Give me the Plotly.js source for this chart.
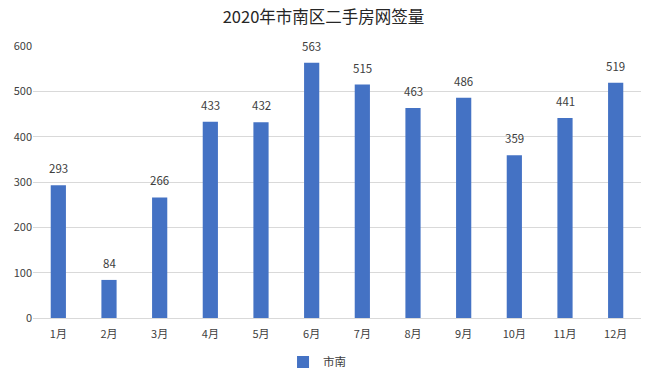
<!DOCTYPE html>
<html>
<head>
<meta charset="utf-8">
<script src="https://cdn.plot.ly/plotly-3.0.1.min.js"></script>
<style>html,body{margin:0;padding:0;background:#fff;}#chart{width:647px;height:377px;}</style>
</head>
<body>
<div id="chart"></div>
<script>
const months = ["1月","2月","3月","4月","5月","6月","7月","8月","9月","10月","11月","12月"];
const values = [293, 84, 266, 433, 432, 563, 515, 463, 486, 359, 441, 519];
const seriesName = "市南";
const yTicks = [0, 100, 200, 300, 400, 500, 600];

const font = "'Noto Sans CJK SC', 'Noto Sans', sans-serif";

const labels = months.map((m, i) => ({
  x: m, y: values[i], xref: "x", yref: "y",
  text: String(values[i]), showarrow: false,
  yanchor: "bottom", yshift: 7,
  font: {family: font, size: 11.5, color: "#404040"}
}));

Plotly.newPlot("chart", [{
  type: "bar",
  x: months,
  y: values,
  name: seriesName,
  marker: {color: "#4472C4"},
  hoverinfo: "x+y"
}], {
  width: 647, height: 377,
  margin: {l: 33, r: 6, t: 46, b: 59, autoexpand: false},
  paper_bgcolor: "#fff", plot_bgcolor: "#fff",
  title: {text: "2020年市南区二手房网签量", font: {family: font, size: 16.5, color: "#262626"}, x: 0.5, xanchor: "center", y: 0.955, yanchor: "middle"},
  bargap: 0.7,
  showlegend: true,
  legend: {orientation: "h", x: 0.49, xanchor: "center", xref: "container", y: 0.04, yref: "container", yanchor: "middle", itemwidth: 30, font: {family: font, size: 11.5, color: "#404040"}},
  annotations: labels,
  xaxis: {type: "category", showgrid: false, showline: true, linecolor: "#D9D9D9", linewidth: 1, ticks: "", ticklabelstandoff: 6, tickfont: {family: font, size: 11, color: "#404040"}, fixedrange: true, automargin: false},
  yaxis: {range: [0, 600], tickvals: yTicks, showgrid: true, gridcolor: "#D9D9D9", gridwidth: 1, zeroline: false, showline: false, ticks: "", ticklen: 0, tickfont: {family: font, size: 11, color: "#404040"}, fixedrange: true, automargin: false}
}, {displayModeBar: false, staticPlot: true});
</script>
</body>
</html>
